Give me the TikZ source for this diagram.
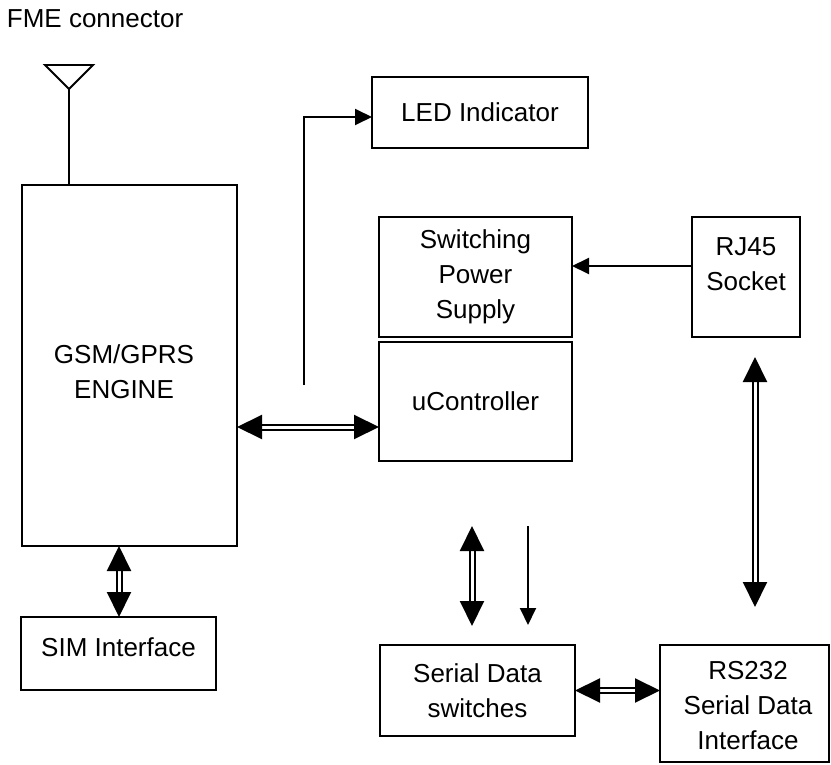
\documentclass[tikz,border=0pt]{standalone}
\usepackage{fontspec}
\setmainfont{Liberation Sans}
\usetikzlibrary{arrows.meta}
\newcommand\diagfont{\fontsize{26}{35}\selectfont}
\begin{document}
\begin{tikzpicture}[x=1pt,y=-1pt,line width=1.9pt,
  box/.style={draw,rectangle,inner sep=0pt,outer sep=0pt,align=center,font=\diagfont},
  txt/.style={align=center,font=\diagfont,inner sep=0pt},
  sarrow/.style={-{Triangle[length=17pt,width=16pt]}},
  dbl/.style={double,double distance=3pt,line width=2pt,
    {Triangle[length=25pt,width=24pt]}-{Triangle[length=25pt,width=24pt]}}]
\useasboundingbox (0,0) rectangle (831,765);

% boxes
\node[box,minimum width=215pt,minimum height=361pt] (gsm) at (129.5,365.5) {};
\node[box,minimum width=195pt,minimum height=73pt] (sim) at (118.5,653.5) {};
\node[box,minimum width=216pt,minimum height=71pt] (led) at (480,112.5) {LED Indicator};
\node[box,minimum width=193pt,minimum height=120pt] (sps) at (475.5,277) {Switching\\Power\\Supply};
\node[box,minimum width=193pt,minimum height=119pt] (uc) at (475.5,401.5) {uController};
\node[box,minimum width=108pt,minimum height=120pt] (rj) at (746,277) {};
\node[box,minimum width=195pt,minimum height=91pt] (sds) at (477.5,690.5) {Serial Data\\switches};
\node[box,minimum width=169pt,minimum height=117pt] (rs) at (744.5,703.5) {};

% texts
\node[anchor=base west,font=\diagfont,inner sep=0pt] (fme) at (6,28) {FME connector};
\node[txt] (gsmt) at (124,372) {GSM/GPRS\\ENGINE};
\node[txt] (simt) at (118.5,647) {SIM Interface};
\node[txt] (rjt) at (746,264) {RJ45\\Socket};
\node[txt] (rst) at (748,706) {RS232\\Serial Data\\Interface};

% antenna
\coordinate (apex) at (69,89);
\draw (45,65) -- (93,65) -- (apex) -- cycle;
\draw (apex) -- (apex |- gsm.north);

% LED arrow
\coordinate (ledstart) at (304,385);
\coordinate (ledin) at (372,117);
\draw[sarrow] (ledstart) |- (ledin);

% GSM <-> uController
\coordinate (h1) at (0,427);
\draw[dbl] (gsm.east |- h1) -- (uc.west |- h1);

% RJ45 -> SPS
\coordinate (h2) at (0,266);
\draw[sarrow] (rj.west |- h2) -- (sps.east |- h2);

% RJ45 <-> RS232
\coordinate (v1a) at (755,357);
\coordinate (v1b) at (755,607);
\draw[dbl] (v1a) -- (v1b);

% middle arrows
\coordinate (v2a) at (472,526);
\coordinate (v2b) at (472,626);
\draw[dbl] (v2a) -- (v2b);
\coordinate (v3a) at (528,526);
\coordinate (v3b) at (528,625);
\draw[sarrow] (v3a) -- (v3b);

% GSM <-> SIM
\coordinate (v4) at (119,0);
\draw[dbl] (v4 |- gsm.south) -- (v4 |- sim.north);

% SDS <-> RS232
\draw[dbl] (sds.east) -- (rs.west |- sds.east);
\end{tikzpicture}
\end{document}
